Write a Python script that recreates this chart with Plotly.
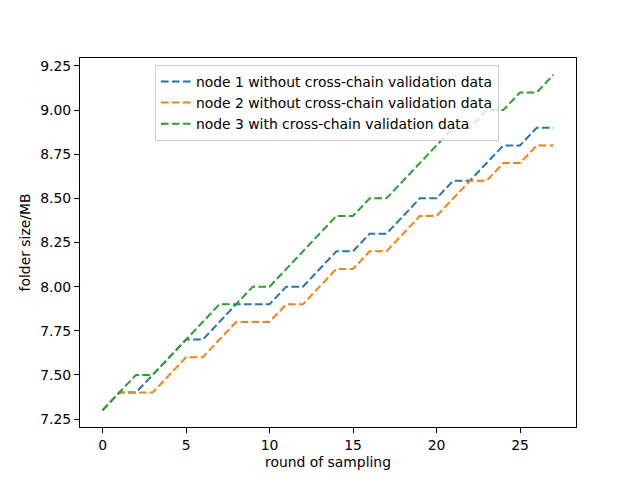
import plotly.graph_objects as go

rounds = list(range(28))
node1 = [7.3, 7.4, 7.4, 7.5, 7.6, 7.7, 7.7, 7.8, 7.9, 7.9, 7.9, 8.0, 8.0, 8.1,
         8.2, 8.2, 8.3, 8.3, 8.4, 8.5, 8.5, 8.6, 8.6, 8.7, 8.8, 8.8, 8.9, 8.9]
node2 = [7.3, 7.4, 7.4, 7.4, 7.5, 7.6, 7.6, 7.7, 7.8, 7.8, 7.8, 7.9, 7.9, 8.0,
         8.1, 8.1, 8.2, 8.2, 8.3, 8.4, 8.4, 8.5, 8.6, 8.6, 8.7, 8.7, 8.8, 8.8]
node3 = [7.3, 7.4, 7.5, 7.5, 7.6, 7.7, 7.8, 7.9, 7.9, 8.0, 8.0, 8.1, 8.2, 8.3,
         8.4, 8.4, 8.5, 8.5, 8.6, 8.7, 8.8, 8.9, 8.9, 9.0, 9.0, 9.1, 9.1, 9.2]
names = ["node 1 without cross-chain validation data",
         "node 2 without cross-chain validation data",
         "node 3 with cross-chain validation data"]
colors = ["#1f77b4", "#ff7f0e", "#2ca02c"]
x_ticks = [0, 5, 10, 15, 20, 25]
y_ticks = [7.25, 7.5, 7.75, 8.0, 8.25, 8.5, 8.75, 9.0, 9.25]

fig = go.Figure()
for ys, name, c in zip([node1, node2, node3], names, colors):
    fig.add_trace(go.Scatter(x=rounds, y=ys, mode="lines", name=name,
                             line=dict(color=c, width=2, dash="7.7px,3.3px")))

axis_common = dict(showline=True, linecolor="black", linewidth=1, mirror=True,
                   ticks="outside", ticklen=5, tickcolor="black", showgrid=False,
                   zeroline=False, tickfont=dict(size=13.9, color="black"))
fig.update_xaxes(range=[-1.35, 28.35], tickvals=x_ticks,
                 title=dict(text="round of sampling", font=dict(size=13.9, color="black"), standoff=5),
                 **axis_common)
fig.update_yaxes(range=[7.205, 9.295], tickvals=y_ticks, tickformat=".2f",
                 title=dict(text="folder size/MB", font=dict(size=13.9, color="black"), standoff=6),
                 **axis_common)
fig.update_layout(
    width=640, height=480,
    margin=dict(l=72, r=72, t=50, b=61),
    paper_bgcolor="white", plot_bgcolor="white",
    font=dict(family="DejaVu Sans", size=13.9, color="black"),
    legend=dict(x=0.151, y=0.981, xanchor="left", yanchor="top",
                bgcolor="rgba(255,255,255,0.8)", bordercolor="#cccccc", borderwidth=1,
                font=dict(size=13.9), tracegroupgap=0, itemwidth=30),
    showlegend=True,
)
fig.write_html("out.html")
